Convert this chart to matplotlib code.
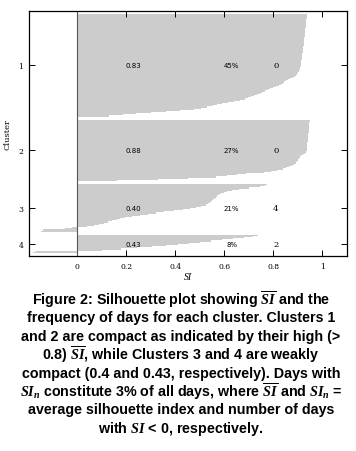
import numpy as np
import matplotlib
matplotlib.use('Agg')
import matplotlib.pyplot as plt

plt.rcParams['mathtext.fontset'] = 'custom'
plt.rcParams['mathtext.rm'] = 'Liberation Serif:bold'
plt.rcParams['mathtext.it'] = 'Liberation Serif:bold:italic'

# silhouette values per day, sorted within each cluster
si_c1 = [0.936, 0.936, 0.935, 0.935, 0.934, 0.934, 0.933, 0.933, 0.932, 0.932,
         0.931, 0.931, 0.930, 0.930, 0.929, 0.929, 0.928, 0.928, 0.927, 0.927,
         0.926, 0.926, 0.925, 0.925, 0.924, 0.924, 0.923, 0.923, 0.922, 0.922,
         0.921, 0.920, 0.920, 0.919, 0.918, 0.918, 0.917, 0.916, 0.916, 0.915,
         0.914, 0.914, 0.913, 0.912, 0.912, 0.911, 0.910, 0.910,
         0.909, 0.906, 0.903, 0.900, 0.897, 0.894,
         0.888, 0.878, 0.869, 0.860, 0.852, 0.845, 0.838, 0.830,
         0.822, 0.810, 0.798, 0.787, 0.776, 0.765,
         0.755, 0.745, 0.733, 0.721, 0.709, 0.697,
         0.685, 0.665, 0.640, 0.615, 0.590, 0.570,
         0.555, 0.530, 0.505, 0.474,
         0.420, 0.360, 0.300, 0.240, 0.185, 0.130]
si_c2 = [0.948, 0.948, 0.947, 0.947, 0.946, 0.946, 0.945, 0.945, 0.944, 0.944,
         0.943, 0.943, 0.942, 0.942, 0.941, 0.941, 0.940, 0.940, 0.939, 0.939,
         0.938, 0.938, 0.937, 0.937, 0.936, 0.936, 0.936,
         0.935, 0.933, 0.928, 0.920, 0.914, 0.910, 0.907, 0.904, 0.900, 0.897,
         0.894, 0.890, 0.884, 0.875, 0.865, 0.853, 0.840, 0.815, 0.790, 0.760,
         0.690, 0.650, 0.610, 0.567, 0.450, 0.330, 0.160]
si_c3 = [0.775, 0.765, 0.745, 0.700, 0.660, 0.630, 0.610, 0.598, 0.588, 0.578,
         0.570, 0.565, 0.560, 0.555, 0.550, 0.545, 0.540, 0.535, 0.525, 0.505,
         0.485, 0.460, 0.430, 0.395, 0.355, 0.320, 0.290, 0.255, 0.225, 0.195,
         0.175, 0.160, 0.140, 0.125, 0.110, 0.090, 0.070, 0.040,
         -0.020, -0.050, -0.140, -0.148]
si_c4 = [0.735, 0.715, 0.680, 0.635, 0.590, 0.545, 0.500, 0.455, 0.410, 0.360,
         0.305, 0.245, 0.180, 0.100, -0.170, -0.180]

cluster_names = ['1', '2', '3', '4']
mean_si = ['0.83', '0.88', '0.40', '0.43']
freq_pct = ['45%', '27%', '21%', '8%']
n_negative = ['0', '0', '4', '2']
x_ticks = [0, 0.2, 0.4, 0.6, 0.8, 1.0]
x_ticklabels = ['0', '0.2', '0.4', '0.6', '0.8', '1']

caption = [
    r'Figure 2: Silhouette plot showing $\overline{SI}$ and the',
    'frequency of days for each cluster. Clusters 1',
    'and 2 are compact as indicated by their high (>',
    r'0.8) $\overline{SI}$, while Clusters 3 and 4 are weakly',
    'compact (0.4 and 0.43, respectively). Days with',
    r'$SI_n$ constitute 3% of all days, where $\overline{SI}$ and $SI_n$ =',
    'average silhouette index and number of days',
    r'with $SI$ < 0, respectively.',
]

fig = plt.figure(figsize=(3.56, 4.52), dpi=100)
ax = fig.add_axes([29 / 356, 1 - 257 / 452, 318 / 356, 245 / 452])

gap = 2.7
start = 0.0
centers = []
for vals in [si_c1, si_c2, si_c3, si_c4]:
    edges = start + np.arange(len(vals) + 1)
    ax.stairs(vals, edges, orientation='horizontal', baseline=0, fill=True,
              color='#cccccc', lw=0)
    centers.append(start + len(vals) / 2)
    start += len(vals) + gap
total = start - gap

ax.axvline(0, color='#555555', lw=0.8)

for c, m, f, n in zip(centers, mean_si, freq_pct, n_negative):
    ax.text(0.23, c, m, fontsize=5, ha='center', va='center', family='DejaVu Sans')
    ax.text(0.63, c, f, fontsize=5, ha='center', va='center', family='DejaVu Sans')
    ax.text(0.81, c, n, fontsize=6, ha='center', va='center', family='DejaVu Serif')

ax.set_xlim(-0.197, 1.10)
ax.set_ylim(total + 2.7, -3.0)
ax.set_xticks(x_ticks)
ax.set_xticklabels(x_ticklabels, family='DejaVu Serif', fontsize=5.5)
ax.set_yticks(centers)
ax.set_yticklabels(cluster_names, family='DejaVu Serif', fontsize=5.5)
ax.tick_params(direction='in', top=True, right=True, length=4, width=0.7,
               pad=4)
for s in ax.spines.values():
    s.set_linewidth(0.9)
ax.set_xlabel('SI', fontsize=7, family='Liberation Serif', style='italic',
              labelpad=2)
ax.set_ylabel('Cluster', fontsize=6, family='DejaVu Serif', labelpad=5)

y0 = 300
for i, line in enumerate(caption):
    fig.text(181 / 356, 1 - (y0 + i * 18.4) / 452, line, ha='center', va='center',
             fontsize=10.3, fontweight='bold', family='Liberation Sans')

fig.savefig('out.png', dpi=100)
